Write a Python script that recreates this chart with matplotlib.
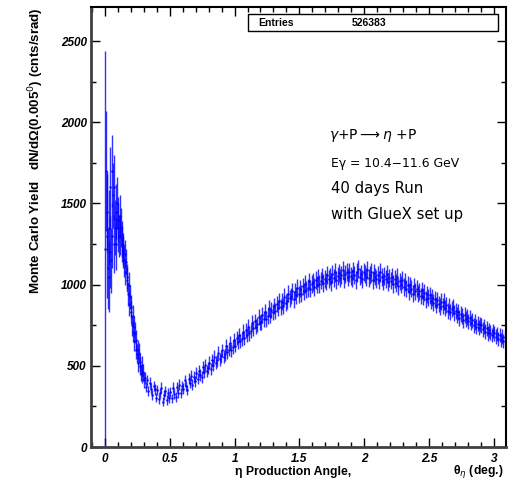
import numpy as np
import matplotlib
matplotlib.use("Agg")
import matplotlib.pyplot as plt
from matplotlib.ticker import MultipleLocator

entries = 526383

# 0 - 0.30 deg, 0.005 deg bins (small solid angle, big errors)
w_front = 0.005
y_front = [1220, 1700, 1300, 1450, 1100, 1050, 1350, 1200, 1600, 1150,
           1700, 1300, 1550, 1250, 1600, 1350, 1450, 1250, 1500, 1350,
           1400, 1300, 1420, 1300, 1350, 1250, 1280, 1200, 1220, 1150,
           1190, 1080, 1140, 1030, 1050, 940, 1000, 880, 925, 830,
           865, 750, 805, 710, 740, 650, 705, 600, 660, 575,
           600, 520, 580, 500, 525, 455, 505, 445, 460, 410]
err_front = [1220, 370, 380, 250, 250, 220, 230, 220, 250, 200,
             220, 200, 200, 180, 200, 170, 170, 160, 160, 150,
             140, 130, 130, 120, 120, 110, 110, 100, 100, 100,
             85, 80, 80, 78, 78, 74, 76, 72, 73, 70,
             70, 66, 68, 64, 65, 61, 63, 59, 61, 58,
             59, 55, 58, 54, 55, 51, 54, 51, 51, 49]

# 0.30 - 3.10 deg, 0.01 deg bins
w_rest = 0.01
y_rest = [
    425, 370, 410, 345, 395, 360, 320, 375, 355, 305,
    350, 295, 330, 365, 280, 320, 345, 290, 335, 300,
    340, 300, 365, 325, 310, 370, 335, 385, 330, 375,
    360, 410, 375, 350, 420, 395, 440, 385, 430, 405,
    455, 420, 470, 445, 430, 490, 460, 505, 470, 485,
    520, 480, 535, 505, 555, 520, 535, 580, 540, 560,
    595, 555, 570, 620, 585, 600, 640, 595, 615, 660,
    625, 670, 645, 690, 655, 665, 710, 670, 720, 690,
    740, 700, 715, 765, 730, 775, 740, 755, 800, 765,
    770, 815, 790, 830, 790, 805, 855, 810, 845, 830,
    870, 835, 880, 855, 900, 860, 895, 870, 925, 890,
    900, 945, 915, 930, 960, 910, 955, 935, 980, 940,
    975, 945, 990, 960, 1005, 970, 980, 1020, 975, 1005,
    1015, 985, 1030, 1000, 1040, 1005, 1025, 1050, 1010, 1035,
    1020, 1060, 1035, 1050, 1015, 1065, 1040, 1075, 1030, 1055,
    1070, 1040, 1060, 1090, 1035, 1065, 1080, 1045, 1075, 1055,
    1040, 1085, 1060, 1030, 1075, 1095, 1050, 1065, 1035, 1080,
    1065, 1045, 1090, 1040, 1060, 1075, 1030, 1070, 1050, 1035,
    1060, 1030, 1075, 1045, 1020, 1055, 1035, 1065, 1015, 1040,
    1025, 1050, 1005, 1035, 1010, 1045, 990, 1020, 1000, 1030,
    985, 1015, 975, 1000, 960, 995, 975, 945, 990, 960,
    975, 945, 960, 930, 965, 925, 950, 910, 940, 920,
    935, 900, 920, 890, 910, 875, 905, 880, 865, 895,
    870, 895, 855, 875, 840, 865, 830, 850, 860, 825,
    840, 815, 830, 795, 820, 805, 780, 815, 790, 800,
    775, 795, 765, 780, 750, 770, 740, 760, 735, 755,
    750, 725, 740, 710, 730, 700, 720, 705, 690, 715,
    700, 680, 695, 665, 690, 660, 680, 655, 675, 660,
]

x_front = (np.arange(len(y_front)) + 0.5) * w_front
x_rest = 0.30 + (np.arange(len(y_rest)) + 0.5) * w_rest
x = np.concatenate([x_front, x_rest])
y = np.array(y_front + y_rest, dtype=float)
err = np.concatenate([err_front, np.sqrt(y_rest) * 1.7])
xerr = np.concatenate([np.full(len(y_front), w_front / 2),
                       np.full(len(y_rest), w_rest / 2)])

fig = plt.figure(figsize=(5.1, 4.84), dpi=100)
ax = fig.add_axes([0.1784, 0.0764, 0.8136, 0.9091])

ax.errorbar(x, y, yerr=err, xerr=xerr, fmt='.', color='blue',
            ms=1.5, elinewidth=1.0, capsize=0, alpha=0.8)

ax.set_xlim(-0.108, 3.094)
ax.set_ylim(0, 2710)

ax.xaxis.set_major_locator(MultipleLocator(0.5))
ax.xaxis.set_minor_locator(MultipleLocator(0.1))
ax.yaxis.set_major_locator(MultipleLocator(500))
ax.yaxis.set_minor_locator(MultipleLocator(250))
ax.xaxis.set_major_formatter(plt.FuncFormatter(lambda v, p: f"{v:g}"))
ax.tick_params(which='both', direction='in', top=True, right=True)
ax.tick_params(which='major', length=6.5, width=1)
ax.tick_params(which='minor', length=3.3, width=1)
ax.tick_params(axis='y', pad=3)
ax.tick_params(axis='x', pad=4)
for lab in ax.get_xticklabels() + ax.get_yticklabels():
    lab.set_fontfamily('Liberation Sans')
    lab.set_fontweight('bold')
    lab.set_fontstyle('italic')
    lab.set_fontsize(8.5)

for side in ['left', 'bottom']:
    ax.spines[side].set_linewidth(2)
    ax.spines[side].set_color('#404040')
for side in ['top', 'right']:
    ax.spines[side].set_linewidth(1.5)
    ax.spines[side].set_color('black')

ax.set_ylabel('Monte Carlo Yield   dN/d\u03a9(0.005$^{0}$) (cnts/srad)',
              loc='top', fontsize=9.6, fontweight='bold',
              family='Liberation Sans', labelpad=11)

fig.text(235 / 510, 1 - 472 / 484, '\u03b7 Production Angle,',
         fontsize=8.8, fontweight='bold', family='Liberation Sans',
         ha='left', va='center')
fig.text(504 / 510, 1 - 472 / 484, '\u03b8$_\u03b7$ (deg.)',
         fontsize=8.8, fontweight='bold', family='Liberation Sans',
         ha='right', va='center')

# stats box
fig.patches.append(plt.Rectangle((248 / 510, 1 - 31 / 484), 250 / 510, 17 / 484,
                                 transform=fig.transFigure, facecolor='white',
                                 edgecolor='black', linewidth=1))
fig.text(258 / 510, 1 - 22.5 / 484, 'Entries', fontsize=7.5, fontweight='bold',
         family='Liberation Sans', va='center')
fig.text(352 / 510, 1 - 22.5 / 484, str(entries), fontsize=7.5, fontweight='bold',
         family='Liberation Sans', va='center')

fig.text(329 / 510, 1 - 136 / 484, r'$\gamma$+P$\longrightarrow\eta$ +P',
         fontsize=10, va='center')
fig.text(331 / 510, 1 - 164 / 484, 'E\u03b3 = 10.4\u221211.6 GeV',
         fontsize=8.9, va='center')
fig.text(331 / 510, 1 - 189 / 484, '40 days Run', fontsize=10.7, va='center')
fig.text(331 / 510, 1 - 214 / 484, 'with GlueX set up', fontsize=10.7, va='center')

fig.savefig('out.png', dpi=100)
